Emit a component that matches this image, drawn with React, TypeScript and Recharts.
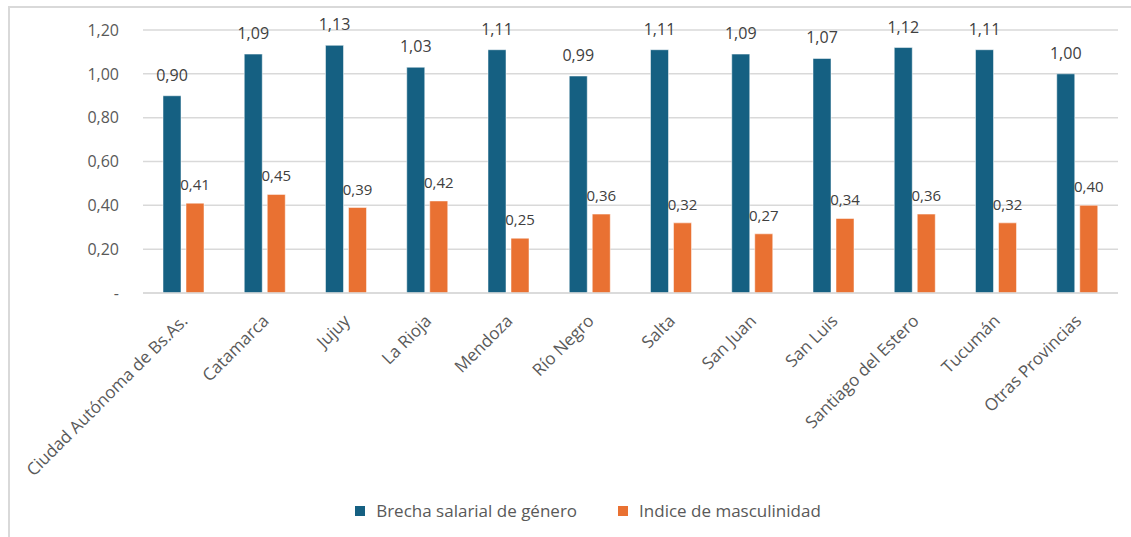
import { BarChart, Bar, XAxis, YAxis, CartesianGrid, Legend, LabelList } from 'recharts'

const provincias = [
  'Ciudad Autónoma de Bs.As.',
  'Catamarca',
  'Jujuy',
  'La Rioja',
  'Mendoza',
  'Río Negro',
  'Salta',
  'San Juan',
  'San Luis',
  'Santiago del Estero',
  'Tucumán',
  'Otras Provincias',
]
const brecha = [0.9, 1.09, 1.13, 1.03, 1.11, 0.99, 1.11, 1.09, 1.07, 1.12, 1.11, 1.0]
const masculinidad = [0.41, 0.45, 0.39, 0.42, 0.25, 0.36, 0.32, 0.27, 0.34, 0.36, 0.32, 0.4]
const yTicks = [0, 0.2, 0.4, 0.6, 0.8, 1.0, 1.2]

const BLUE = '#156082'
const ORANGE = '#E97132'
const TEXT = '#595959'
const FONT = '"Open Sans", sans-serif'

const data = provincias.map((p, i) => ({ name: p, brecha: brecha[i], masc: masculinidad[i] }))

const fmt = (v: number) => (v === 0 ? '-' : v.toFixed(2).replace('.', ','))

// rotated category labels, right end sits just past the bar pair
function XTick({ x, y, payload }: any) {
  return (
    <g transform={`translate(${x + 5},${y + 29})`}>
      <text textAnchor="end" transform="rotate(-45)" fill={TEXT} fontSize={17} fontFamily={FONT}>
        {payload.value}
      </text>
    </g>
  )
}

function LegendBox() {
  const items = [
    { label: 'Brecha salarial de género', color: BLUE },
    { label: 'Indice de masculinidad', color: ORANGE },
  ]
  return (
    <div style={{ display: 'flex', justifyContent: 'center', gap: 41, paddingLeft: 48, fontFamily: FONT, fontSize: 17, color: TEXT, lineHeight: '16px' }}>
      {items.map(it => (
        <div key={it.label} style={{ display: 'flex', alignItems: 'center', gap: 11 }}>
          <span style={{ width: 10, height: 10, background: it.color, display: 'inline-block' }} />
          {it.label}
        </div>
      ))}
    </div>
  )
}

export default function App() {
  return (
    <div style={{ position: 'absolute', left: 8, top: 6, width: 1140, height: 540, border: '2px solid #d9d9d9', background: '#fff' }}>
      <BarChart
        width={1121}
        height={525}
        data={data}
        margin={{ top: 22, right: 13, left: 0, bottom: 0 }}
        barSize={18}
        barGap={5}
      >
        <CartesianGrid vertical={false} stroke="#d9d9d9" strokeWidth={1.5} />
        <XAxis
          dataKey="name"
          interval={0}
          height={210}
          tick={<XTick />}
          tickLine={false}
          tickSize={0}
          tickMargin={0}
          axisLine={{ stroke: '#d9d9d9', strokeWidth: 1.5 }}
        />
        <YAxis
          domain={[0, 1.2]}
          ticks={yTicks}
          width={133}
          axisLine={false}
          tickLine={false}
          tickSize={0}
          tickMargin={24}
          tickFormatter={fmt}
          tick={{ fill: TEXT, fontSize: 16, fontFamily: FONT }}
        />
        <Legend verticalAlign="bottom" content={<LegendBox />} wrapperStyle={{ height: 30 }} />
        <Bar dataKey="brecha" fill={BLUE} stroke="#fff" strokeWidth={0.5} isAnimationActive={false}>
          <LabelList dataKey="brecha" position="top" offset={15} formatter={(v: any) => fmt(v)} fill="#404040" fontSize={16} fontFamily={FONT} />
        </Bar>
        <Bar dataKey="masc" fill={ORANGE} stroke="#fff" strokeWidth={0.5} isAnimationActive={false}>
          <LabelList dataKey="masc" position="top" offset={13} formatter={(v: any) => fmt(v)} fill="#404040" fontSize={15} fontFamily={FONT} />
        </Bar>
      </BarChart>
    </div>
  )
}
